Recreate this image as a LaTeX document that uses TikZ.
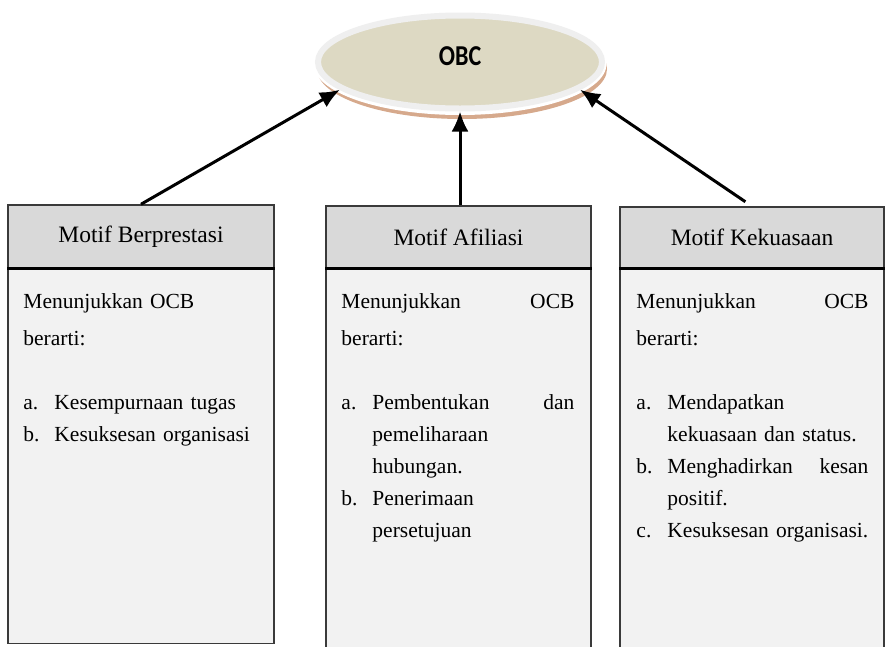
\documentclass[tikz,border=0pt]{standalone}
\usepackage{fontspec}
\setmainfont{Liberation Serif}
\newfontfamily\obcfont{Carlito}
\usepackage{tikz}
\usetikzlibrary{arrows.meta,positioning,shapes.geometric}

\definecolor{headgray}{HTML}{D9D9D9}
\definecolor{bodygray}{HTML}{F2F2F2}
\definecolor{boxline}{HTML}{3A3A3A}
\definecolor{ovalfill}{HTML}{DDD9C3}
\definecolor{ovalrim}{HTML}{EFEFEF}
\definecolor{ovalshade}{HTML}{D6A98C}

\begin{document}
\begin{tikzpicture}[x=1pt,y=-1pt,
        headbox/.style={draw=boxline,line width=1.5pt,fill=headgray,inner sep=0pt,font=\fontsize{23.5}{27}\selectfont},
        bodybox/.style={draw=boxline,line width=1.5pt,fill=bodygray,inner sep=0pt},
        bodytext/.style={inner sep=0pt,text width=234pt,align=left,font=\fontsize{21.5}{32}\selectfont},
        link/.style={line width=3pt,-{Latex[length=20pt,width=17pt]}}]
            \clip (0,0) rectangle (885,646);
            \fill[white] (0,0) rectangle (885,646);

            % oval at the top
            \fill[ovalshade] (462,69) ellipse [x radius=145, y radius=50];
            \fill[white] (460,64) ellipse [x radius=146.5, y radius=51];
            \node[ellipse,draw=ovalrim,line width=6pt,fill=ovalfill,minimum width=284pt,minimum height=93pt,inner sep=0pt] (obc) at (460,62) {};
            \node[font=\obcfont\bfseries\fontsize{24}{28}\selectfont] (obctext) at (460,56) {\scalebox{1}[1.2]{OBC}};

            % the three boxes
            \node[headbox,minimum width=266pt,minimum height=63pt] (hdleft) at (141,236.5) {Motif Berprestasi};
            \node[bodybox,minimum width=266pt,minimum height=374pt,below=0pt of hdleft] (bdleft) {};
            \draw[line width=3pt] (hdleft.south west) -- (hdleft.south east);

            \node[headbox,minimum width=265pt,minimum height=62pt] (hdmid) at (458.5,237) {Motif Afiliasi};
            \node[bodybox,minimum width=265pt,minimum height=420pt,below=0pt of hdmid] (bdmid) {};
            \draw[line width=3pt] (hdmid.south west) -- (hdmid.south east);

            \node[headbox,minimum width=264pt,minimum height=61pt] (hdright) at (752,237.5) {Motif Kekuasaan};
            \node[bodybox,minimum width=264pt,minimum height=420pt,below=0pt of hdright] (bdright) {};
            \draw[line width=3pt] (hdright.south west) -- (hdright.south east);

            % texts in the boxes
            \node[bodytext,below right=25pt and 16pt of bdleft.north west] (txleft) {%
                Menunjukkan OCB\\[5pt]
                berarti:\\[32pt]
                \makebox[31pt][l]{a.}Kesempurnaan tugas\\
                \makebox[31pt][l]{b.}Kesuksesan organisasi};
            \node[bodytext,text width=233pt,below right=25pt and 16pt of bdmid.north west] (txmid) {%
                Menunjukkan\hspace{\fill}OCB\\[5pt]
                berarti:\\[32pt]
                \makebox[31pt][l]{a.}Pembentukan\hspace{\fill}dan\\
                \hspace*{31pt}pemeliharaan\\
                \hspace*{31pt}hubungan.\\
                \makebox[31pt][l]{b.}Penerimaan\\
                \hspace*{31pt}persetujuan};
            \node[bodytext,text width=232pt,below right=25pt and 17pt of bdright.north west] (txright) {%
                Menunjukkan\hspace{\fill}OCB\\[5pt]
                berarti:\\[32pt]
                \makebox[31pt][l]{a.}Mendapatkan\\
                \hspace*{31pt}kekuasaan dan status.\\
                \makebox[31pt][l]{b.}Menghadirkan\hspace{\fill}kesan\\
                \hspace*{31pt}positif.\\
                \makebox[31pt][l]{c.}Kesuksesan organisasi.};

            % arrows
            \draw[link] (hdleft.north) -- (obc.193);
            \draw[link] (hdmid.north -| obc.south) -- (obc.south);
            \draw[link,shorten <=8pt] (hdright.north) -- (obc.-13);
        \end{tikzpicture}
\end{document}
